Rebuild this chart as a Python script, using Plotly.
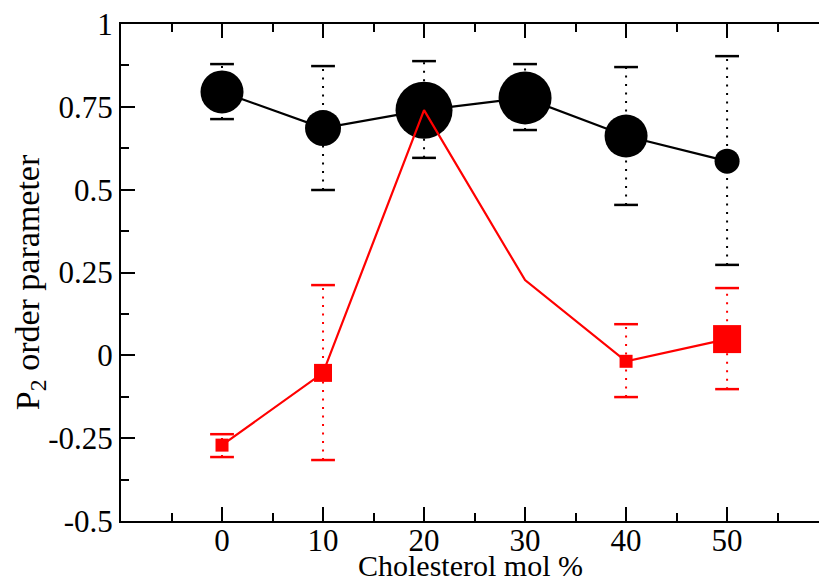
import plotly.graph_objects as go

# ---- data ----
chol = [0, 10, 20, 30, 40, 50]

black_p2 = [0.795, 0.686, 0.740, 0.777, 0.662, 0.586]
black_hi = [0.879, 0.873, 0.888, 0.879, 0.870, 0.903]
black_lo = [0.713, 0.499, 0.596, 0.680, 0.454, 0.273]
black_marker_d = [43, 36, 57, 53, 43, 25]

red_p2 = [-0.271, -0.053, 0.740, 0.227, -0.018, 0.049]
red_hi = [-0.238, 0.212, None, None, 0.094, 0.203]
red_lo = [-0.307, -0.316, None, None, -0.126, -0.102]
red_marker_d = [13, 18, 0, 0, 13, 28]

x_tickvals = [0, 10, 20, 30, 40, 50]
x_ticktext = ["0", "10", "20", "30", "40", "50"]
y_tickvals = [-0.5, -0.25, 0, 0.25, 0.5, 0.75, 1]
y_ticktext = ["-0.5", "-0.25", "0", "0.25", "0.5", "0.75", "1"]

x_title = "Cholesterol mol %"
y_title = "P<sub>2</sub> order parameter"

FONT = "Liberation Serif, Times New Roman, serif"


def stems(xs, lo, hi):
    sx, sy = [], []
    for x, l, h in zip(xs, lo, hi):
        if l is None or h is None:
            continue
        sx += [x, x, None]
        sy += [l, h, None]
    return sx, sy


def caps(xs, lo, hi):
    cx, cy = [], []
    for x, l, h in zip(xs, lo, hi):
        if l is None or h is None:
            continue
        cx += [x, x]
        cy += [l, h]
    return cx, cy


fig = go.Figure()

for xs, ys, lo, hi, sizes, color, symbol in [
    (chol, black_p2, black_lo, black_hi, black_marker_d, "black", "circle"),
    (chol, red_p2, red_lo, red_hi, red_marker_d, "red", "square"),
]:
    sx, sy = stems(xs, lo, hi)
    fig.add_trace(go.Scatter(x=sx, y=sy, mode="lines",
                             line=dict(color=color, width=2, dash="2px,6.5px"),
                             hoverinfo="skip", showlegend=False))
    cx, cy = caps(xs, lo, hi)
    fig.add_trace(go.Scatter(x=cx, y=cy, mode="markers",
                             marker=dict(symbol="line-ew", size=17, opacity=1,
                                         line=dict(color=color, width=2.5)),
                             hoverinfo="skip", showlegend=False))
    fig.add_trace(go.Scatter(x=xs, y=ys, mode="lines",
                             line=dict(color=color, width=2.2),
                             showlegend=False))
    fig.add_trace(go.Scatter(x=xs, y=ys, mode="markers",
                             marker=dict(symbol=symbol, size=sizes, color=color,
                                         opacity=1, line=dict(width=0)),
                             showlegend=False))

fig.update_layout(
    width=819, height=581,
    margin=dict(l=121, r=0, t=24, b=60),
    paper_bgcolor="white", plot_bgcolor="white",
    font=dict(family=FONT, size=30, color="black"),
    showlegend=False,
    annotations=[
        dict(text=x_title, xref="paper", yref="paper", x=0.5, y=-0.0905,
             xanchor="center", yanchor="middle", showarrow=False,
             font=dict(family=FONT, size=30, color="black")),
        dict(text=y_title, xref="paper", yref="paper", x=-0.130, y=0.481,
             xanchor="center", yanchor="middle", showarrow=False, textangle=-90,
             font=dict(family=FONT, size=34, color="black")),
    ],
)

fig.update_xaxes(
    range=[-10, 59.1],
    tickmode="array", tickvals=x_tickvals, ticktext=x_ticktext,
    ticks="inside", ticklen=14, tickwidth=2, tickcolor="black",
    minor=dict(tickmode="array", tickvals=[-5, 5, 15, 25, 35, 45, 55],
               ticks="inside", ticklen=8, tickwidth=2, tickcolor="black"),
    showline=True, linecolor="black", linewidth=2, mirror="allticks",
    showgrid=False, zeroline=False,
    tickfont=dict(family=FONT, size=31),
    ticklabelstandoff=-9,
)

fig.update_yaxes(
    range=[-0.5, 1],
    tickmode="array", tickvals=y_tickvals, ticktext=y_ticktext,
    ticks="inside", ticklen=14, tickwidth=2, tickcolor="black",
    minor=dict(tickmode="array",
               tickvals=[-0.375, -0.125, 0.125, 0.375, 0.625, 0.875],
               ticks="inside", ticklen=8, tickwidth=2, tickcolor="black"),
    showline=True, linecolor="black", linewidth=2, mirror=False,
    showgrid=False, zeroline=False,
    tickfont=dict(family=FONT, size=31),
)

fig.write_html("out.html")
